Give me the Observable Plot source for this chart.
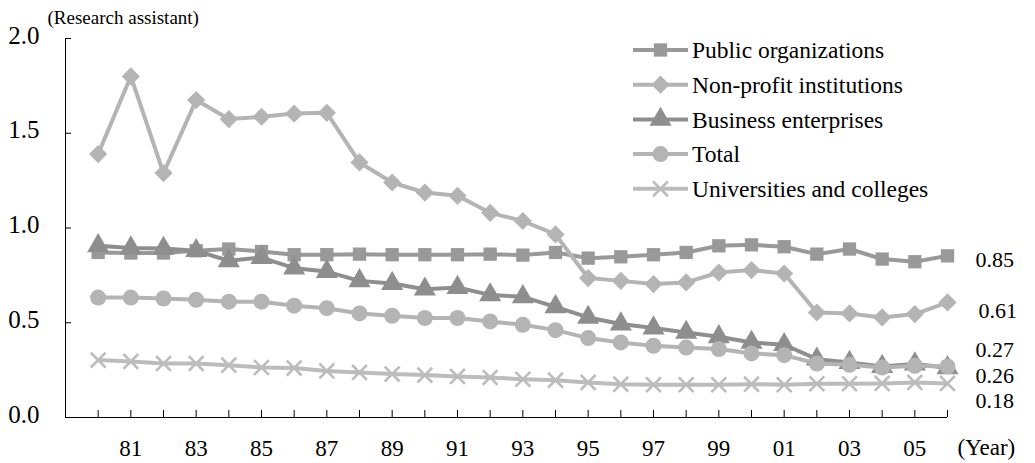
<!DOCTYPE html>
<html><head><meta charset="utf-8">
<script src="https://cdn.jsdelivr.net/npm/d3@7"></script>
<script src="https://cdn.jsdelivr.net/npm/@observablehq/plot@0.6"></script>
<style>
body{margin:0;background:#fff;font-family:"Liberation Serif","Times New Roman",serif;color:#000;}
#wrap{position:relative;width:1035px;height:463px;}
</style></head><body>
<div id="wrap"><div id="chart"></div></div>
<script>
const years = [1980,1981,1982,1983,1984,1985,1986,1987,1988,1989,1990,1991,1992,1993,1994,1995,1996,1997,1998,1999,2000,2001,2002,2003,2004,2005,2006];
const yearLabels = [1981,1983,1985,1987,1989,1991,1993,1995,1997,1999,2001,2003,2005];
const yTicks = [0,0.5,1.0,1.5,2.0];
const seriesNames = ["Public organizations","Non-profit institutions","Business enterprises","Total","Universities and colleges"];
const publicOrg = [0.871,0.868,0.868,0.880,0.889,0.876,0.859,0.859,0.862,0.859,0.859,0.859,0.862,0.857,0.871,0.841,0.848,0.859,0.871,0.906,0.911,0.901,0.862,0.889,0.836,0.822,0.853];
const nonProfit = [1.39,1.80,1.29,1.675,1.575,1.587,1.604,1.608,1.346,1.24,1.187,1.17,1.08,1.037,0.966,0.736,0.721,0.704,0.713,0.765,0.778,0.760,0.554,0.549,0.528,0.546,0.607];
const business = [0.906,0.894,0.892,0.880,0.827,0.844,0.788,0.770,0.721,0.707,0.677,0.686,0.647,0.637,0.584,0.528,0.493,0.472,0.449,0.426,0.396,0.384,0.308,0.290,0.269,0.282,0.262];
const total = [0.633,0.633,0.628,0.621,0.611,0.611,0.590,0.577,0.549,0.537,0.525,0.525,0.507,0.489,0.461,0.419,0.396,0.378,0.369,0.361,0.338,0.329,0.285,0.278,0.264,0.273,0.269];
const universities = [0.303,0.296,0.285,0.285,0.276,0.264,0.261,0.246,0.238,0.229,0.224,0.217,0.211,0.202,0.197,0.185,0.176,0.173,0.173,0.173,0.176,0.173,0.178,0.178,0.180,0.185,0.180];
const endLabels = ["0.85","0.61","0.27","0.26","0.18"];
const endValues = [0.853,0.607,0.269,0.262,0.180];
const unitLabel = "(Research assistant)";
const xUnitLabel = "(Year)";

const allValues = [publicOrg,nonProfit,business,total,universities];
const styles = [
  {color:"#999999", symbol:"square", r:7.5},
  {color:"#b4b4b4", symbol:"diamond2", r:8.2},
  {color:"#8e8e8e", symbol:"triangle", r:8.2},
  {color:"#b4b4b4", symbol:"circle", r:8},
  {color:"#bcbcbc", symbol:"times", r:6.8, stroke:true}
];
const labelOffsets = [{dx:28,dy:4},{dx:31,dy:8},{dx:28,dy:-17},{dx:28,dy:8},{dx:28,dy:18}];
const FONT = "'Liberation Serif','Times New Roman',serif";

const marks = [];
allValues.forEach((vals,i)=>{
  const data = years.map((yr,j)=>({year:yr, v:vals[j]}));
  const s = styles[i];
  marks.push(Plot.line(data,{x:"year",y:"v",stroke:s.color,strokeWidth:4,strokeLinejoin:"round"}));
  if (s.stroke) {
    marks.push(Plot.dot(data,{x:"year",y:"v",symbol:s.symbol,r:s.r,stroke:s.color,strokeWidth:2.6,fill:"none"}));
  } else {
    marks.push(Plot.dot(data,{x:"year",y:"v",symbol:s.symbol,r:s.r,fill:s.color,stroke:"none"}));
  }
});
const endData = endLabels.map((t,i)=>({t, year:years[years.length-1], v:endValues[i], i}));
endData.forEach(d=>{
  marks.push(Plot.text([d],{x:"year",y:"v",text:"t",textAnchor:"start",dx:labelOffsets[d.i].dx,dy:labelOffsets[d.i].dy,fontSize:22}));
});

const chart = Plot.plot({
  width:1035, height:463,
  marginLeft:65, marginRight:88, marginTop:38, marginBottom:46,
  style:{fontFamily:FONT, background:"transparent", color:"#000"},
  x:{domain:[years[0]-1, years[years.length-1]], label:null},
  y:{domain:[yTicks[0], yTicks[yTicks.length-1]], label:null},
  marks:[
    Plot.ruleX([years[0]-1],{y1:yTicks[0], y2:yTicks[yTicks.length-1], stroke:"#000", strokeWidth:1}),
    Plot.ruleY([0],{stroke:"#000", strokeWidth:1}),
    Plot.axisY({ticks:yTicks, tickSize:6, dx:6, tickFormat:()=>"", label:null}),
    Plot.axisY({ticks:yTicks, tickSize:0, tickPadding:26, dy:-3, tickFormat:d=>d.toFixed(1), fontSize:25, label:null}),
    Plot.axisX({ticks:years, tickSize:7, dy:-7, tickFormat:()=>"", label:null}),
    Plot.axisX({ticks:yearLabels, tickSize:0, tickPadding:22, tickFormat:d=>String(d).slice(2), fontSize:23, label:null}),
    Plot.text([xUnitLabel],{x:()=>years[years.length-1], y:()=>0, text:d=>d, textAnchor:"start", dx:10, dy:30, fontSize:23}),
    Plot.text([unitLabel],{frameAnchor:"top-left", text:d=>d, textAnchor:"start", dx:-18, dy:-28, fontSize:19}),
    ...marks
  ]
});
document.getElementById("chart").appendChild(chart);

// legend drawn inside the SVG
const svg = d3.select(chart);
const lg = svg.append("g").attr("transform","translate(633,50)").attr("font-family",FONT).attr("text-anchor","start");
const symMap = {square:d3.symbolSquare, diamond2:d3.symbolDiamond2, triangle:d3.symbolTriangle, circle:d3.symbolCircle, times:d3.symbolTimes};
seriesNames.forEach((name,i)=>{
  const s = styles[i];
  const g = lg.append("g").attr("transform",`translate(0,${i*34.7})`);
  g.append("line").attr("x1",0).attr("x2",55).attr("y1",0).attr("y2",0).attr("stroke",s.color).attr("stroke-width",4);
  const p = g.append("path").attr("transform","translate(27.5,0)").attr("d", d3.symbol(symMap[s.symbol], Math.PI*s.r*s.r)());
  if (s.stroke) p.attr("fill","none").attr("stroke",s.color).attr("stroke-width",2.6);
  else p.attr("fill",s.color);
  g.append("text").attr("x",59).attr("y",0).attr("dy","0.35em").attr("font-size",23.5).attr("text-anchor","start").attr("fill","#000").text(name);
});
</script>
</body></html>
